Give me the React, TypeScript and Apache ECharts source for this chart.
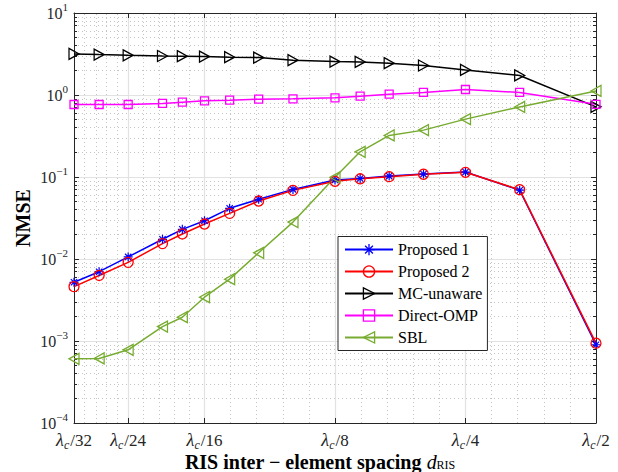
import React, { useEffect, useRef } from 'react';
import * as echarts from 'echarts';

// RIS inter-element spacing d = lambda_c / n
const SPACING_DENOMS = [32, 28, 24, 20, 18, 16, 14, 12, 10, 8, 7, 6, 5, 4, 3, 2];
const TICK_DENOMS = [32, 24, 16, 8, 4, 2];
const SERIES_NAMES = ['Proposed 1', 'Proposed 2', 'MC-unaware', 'Direct-OMP', 'SBL'];

const PROPOSED1 = [0.0052, 0.0070, 0.0106, 0.0174, 0.0230, 0.0293, 0.0415, 0.0535, 0.0706, 0.092, 0.096, 0.1026, 0.1086, 0.1148, 0.069, 0.00090];
const PROPOSED2 = [0.0046, 0.0063, 0.0091, 0.0154, 0.0202, 0.0267, 0.0360, 0.0509, 0.0687, 0.0885, 0.095, 0.101, 0.108, 0.114, 0.070, 0.00094];
const MC_UNAWARE = [3.17, 3.11, 3.05, 2.99, 2.97, 2.94, 2.89, 2.86, 2.66, 2.56, 2.53, 2.44, 2.29, 2.02, 1.73, 0.717];
const DIRECT_OMP = [0.766, 0.766, 0.766, 0.789, 0.818, 0.848, 0.865, 0.889, 0.897, 0.923, 0.968, 1.024, 1.074, 1.167, 1.074, 0.77];
const SBL = [0.000607, 0.000613, 0.000781, 0.00150, 0.00195, 0.00342, 0.00568, 0.0119, 0.0282, 0.0991, 0.203, 0.321, 0.373, 0.508, 0.716, 1.12];

const Y_MIN = 1e-4;
const Y_MAX = 10;

const FONT = 'Liberation Serif';
const AX = '#262626';

// x axis is logarithmic in spacing: position = log2(lambda/32 -> lambda/n)
const xOf = (n: number) => Math.log2(SPACING_DENOMS[0] / n);
const XMAJ = TICK_DENOMS.map(xOf);
const XMINOR: number[] = [];
for (let i = 0; i < XMAJ.length - 1; i++) {
  for (let k = 1; k < 5; k++) XMINOR.push(XMAJ[i] + ((XMAJ[i + 1] - XMAJ[i]) * k) / 5);
}

const toPairs = (vals: number[]) => SPACING_DENOMS.map((n, i) => [xOf(n), vals[i]]);

const P_STAR = 'path://M5,0L5,10M0,5L10,5M1.5,1.5L8.5,8.5M1.5,8.5L8.5,1.5';
const P_RIGHT = 'path://M0,0L10,5L0,10Z';
const P_LEFT = 'path://M10,0L0,5L10,10Z';

function mkSeries(name: string, vals: number[], color: string, symbol: string, size: number | number[], bw: number) {
  return {
    type: 'line',
    name,
    data: toPairs(vals),
    symbol,
    symbolSize: size,
    showSymbol: true,
    lineStyle: { color, width: 1.5 },
    itemStyle: { color: 'none', borderColor: color, borderWidth: bw },
    xAxisIndex: 0,
    yAxisIndex: 0,
    z: 3,
  };
}

export default function App() {
  const ref = useRef<HTMLDivElement>(null);
  useEffect(() => {
    if (!ref.current) return;
    const chart = echarts.init(ref.current, undefined, { renderer: 'svg' });
    const option: any = {
      animation: false,
      backgroundColor: '#fff',
      grid: { left: 74, right: 22, top: 13, bottom: 49, containLabel: false, outerBoundsMode: 'none' },
      legend: {
        data: SERIES_NAMES,
        orient: 'vertical',
        left: 338,
        top: 236.5,
        itemWidth: 48,
        itemHeight: 14,
        itemGap: 5.75,
        padding: [5, 5, 5, 6],
        backgroundColor: '#fff',
        borderColor: AX,
        borderWidth: 1,
        selectedMode: false,
        textStyle: { fontFamily: FONT, fontSize: 16, color: '#000', lineHeight: 14 },
        itemStyle: { borderWidth: 1.3 },
      },
      xAxis: [
        {
          type: 'value',
          min: 0,
          max: 4,
          position: 'bottom',
          axisLine: { show: true, onZero: false, lineStyle: { color: AX, width: 1 } },
          axisTick: { show: true, inside: true, length: 5, customValues: XMAJ, lineStyle: { color: AX } },
          axisLabel: {
            customValues: XMAJ,
            margin: 6,
            formatter: (v: number) => {
              const idx = XMAJ.findIndex((t) => Math.abs(t - v) < 1e-6);
              const n = idx >= 0 ? TICK_DENOMS[idx] : '';
              return `{l|λ}{c|c}{t|/${n}}`;
            },
            rich: {
              l: { fontFamily: FONT, fontStyle: 'italic', fontSize: 18, color: AX, lineHeight: 22, verticalAlign: 'middle' },
              c: { fontFamily: FONT, fontStyle: 'italic', fontSize: 12, color: AX, lineHeight: 14, verticalAlign: 'bottom', padding: [0, 1, 0, 0] },
              t: { fontFamily: FONT, fontSize: 17, color: AX, lineHeight: 22, verticalAlign: 'middle' },
            },
          },
          splitLine: { show: true, lineStyle: { color: '#e2e2e2', width: 1.2 } },
          name: '{b|RIS inter − element spacing }{d|d}{r|RIS}',
          nameLocation: 'middle',
          nameGap: 30,
          nameMoveOverlap: false,
          nameTextStyle: {
            padding: [0, 30, 0, 0],
            rich: {
              b: { fontFamily: FONT, fontWeight: 'bold', fontSize: 20, color: '#000', lineHeight: 18, verticalAlign: 'middle' },
              d: { fontFamily: FONT, fontStyle: 'italic', fontSize: 20, color: '#000', lineHeight: 18, verticalAlign: 'middle' },
              r: { fontFamily: FONT, fontSize: 12, color: '#000', lineHeight: 11, verticalAlign: 'bottom' },
            },
          },
        },
        {
          type: 'value',
          min: 0,
          max: 4,
          position: 'top',
          axisLine: { show: true, onZero: false, lineStyle: { color: AX, width: 1 } },
          axisTick: { show: true, inside: true, length: 5, customValues: XMAJ, lineStyle: { color: AX } },
          axisLabel: { show: false },
          splitLine: { show: false },
        },
      ],
      yAxis: [
        {
          type: 'log',
          logBase: 10,
          min: Y_MIN,
          max: Y_MAX,
          position: 'left',
          axisLine: { show: true, onZero: false, lineStyle: { color: AX, width: 1 } },
          axisTick: { show: true, inside: true, length: 5, lineStyle: { color: AX } },
          minorTick: { show: true, splitNumber: 9, length: 3, lineStyle: { color: AX } },
          splitLine: { show: true, lineStyle: { color: '#e2e2e2', width: 1.2 } },
          minorSplitLine: { show: true, lineStyle: { color: '#c4c4c4', width: 1, type: [1, 3] } },
          axisLabel: {
            margin: 6,
            formatter: (v: number) => {
              const e = Math.round(Math.log10(v));
              return `{b|10}{s|${e < 0 ? '−' + -e : e}}`;
            },
            rich: {
              b: { fontFamily: FONT, fontSize: 16, color: AX, lineHeight: 24, verticalAlign: 'middle' },
              s: { fontFamily: FONT, fontSize: 11, color: AX, lineHeight: 14, verticalAlign: 'top' },
            },
          },
          name: 'NMSE',
          nameLocation: 'middle',
          nameGap: 41,
          nameMoveOverlap: false,
          nameTextStyle: { fontFamily: FONT, fontWeight: 'bold', fontSize: 20, color: '#000', lineHeight: 20 },
        },
        {
          type: 'log',
          logBase: 10,
          min: Y_MIN,
          max: Y_MAX,
          position: 'right',
          axisLine: { show: true, onZero: false, lineStyle: { color: AX, width: 1 } },
          axisTick: { show: true, inside: true, length: 5, lineStyle: { color: AX } },
          minorTick: { show: true, splitNumber: 9, length: 3, lineStyle: { color: AX } },
          axisLabel: { show: false },
          splitLine: { show: false },
        },
      ],
      series: [
        {
          type: 'line',
          data: [],
          silent: true,
          xAxisIndex: 0,
          yAxisIndex: 0,
          markLine: {
            silent: true,
            z: 1,
            symbol: ['none', 'none'],
            label: { show: false },
            lineStyle: { color: '#c4c4c4', width: 1, type: [1, 3] },
            data: XMINOR.map((x) => ({ xAxis: x })),
          },
        },
        mkSeries('Proposed 1', PROPOSED1, '#0000FF', P_STAR, 9, 1.2),
        mkSeries('Proposed 2', PROPOSED2, '#FF0000', 'circle', 10, 1.3),
        mkSeries('MC-unaware', MC_UNAWARE, '#000000', P_RIGHT, [10, 11], 1.3),
        mkSeries('Direct-OMP', DIRECT_OMP, '#FF00FF', 'rect', 8, 1.3),
        mkSeries('SBL', SBL, '#77AC30', P_LEFT, [10, 11], 1.3),
      ],
    };
    chart.setOption(option);
    return () => chart.dispose();
  }, []);
  return (
    <div
      ref={ref}
      style={{ position: 'fixed', left: 0, top: 0, width: 618, height: 472, background: '#fff' }}
    />
  );
}
